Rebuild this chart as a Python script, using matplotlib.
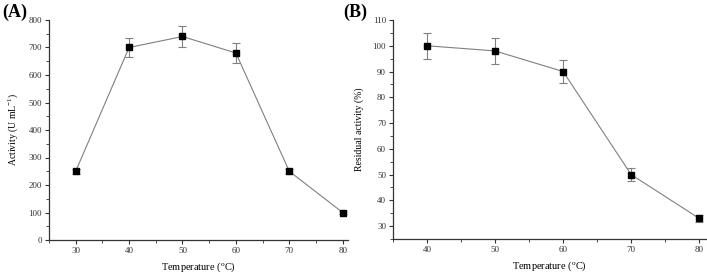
import matplotlib
matplotlib.use("Agg")
import matplotlib.pyplot as plt
from matplotlib.ticker import MultipleLocator

plt.rcParams['font.family'] = ['Liberation Serif', 'DejaVu Serif']
plt.rcParams['mathtext.fontset'] = 'custom'
plt.rcParams['mathtext.rm'] = 'Liberation Serif'
plt.rcParams['mathtext.it'] = 'Liberation Serif:italic'

# Panel A data
temp_a = [30, 40, 50, 60, 70, 80]
activity = [250, 700, 740, 680, 250, 100]
activity_err = [10, 35, 37, 35, 10, 5]

# Panel B data
temp_b = [40, 50, 60, 70, 80]
residual = [100, 98, 90, 50, 33]
residual_err = [5, 5, 4.5, 2.5, 1.5]

fig = plt.figure(figsize=(7.07, 2.77), dpi=100)
ax1 = fig.add_axes([49/707, 1-240/277, (348-49)/707, (240-20)/277])
ax2 = fig.add_axes([393/707, 1-239/277, (706-393)/707, (239-20)/277])

def style(ax):
    for s in ['top', 'right']:
        ax.spines[s].set_visible(False)
    for s in ['left', 'bottom']:
        ax.spines[s].set_linewidth(0.9)
        ax.spines[s].set_color('#333333')
    ax.tick_params(which='major', direction='out', length=3, width=0.8, labelsize=6.5,
                   colors='#333333', pad=2)
    ax.tick_params(which='minor', direction='out', length=2, width=0.6, colors='#333333')

for ax, x, y, e in [(ax1, temp_a, activity, activity_err), (ax2, temp_b, residual, residual_err)]:
    ax.errorbar(x, y, yerr=e, fmt='-', color='#808080', lw=0.8, ecolor='#808080',
                elinewidth=0.8, capsize=3, capthick=0.8, zorder=2)
    ax.plot(x, y, 's', color='black', ms=5, zorder=3)
    style(ax)

ax1.set_xlim(25, 81)
ax1.set_ylim(0, 800)
ax1.xaxis.set_major_locator(MultipleLocator(10))
ax1.xaxis.set_minor_locator(MultipleLocator(5))
ax1.yaxis.set_major_locator(MultipleLocator(100))
ax1.yaxis.set_minor_locator(MultipleLocator(50))
ax1.set_xlabel('Temperature ($\\mathrm{^{o}}$C)', fontsize=7.5, labelpad=4)
ax1.set_ylabel('Activity (U mL$\\mathrm{^{-1}}$)', fontsize=7, labelpad=6)

ax2.set_xlim(35, 81)
ax2.set_ylim(25, 110)
ax2.xaxis.set_major_locator(MultipleLocator(10))
ax2.xaxis.set_minor_locator(MultipleLocator(5))
ax2.yaxis.set_major_locator(MultipleLocator(10))
ax2.yaxis.set_minor_locator(MultipleLocator(5))
ax2.set_xlabel('Temperature ($\\mathrm{^{o}}$C)', fontsize=7.5, labelpad=4)
ax2.set_ylabel('Residual activity (%)', fontsize=7, labelpad=6)

fig.text(2/707, 1-4/277, '(A)', fontsize=13, fontweight='bold', va='top', ha='left')
fig.text(343/707, 1-4/277, '(B)', fontsize=13, fontweight='bold', va='top', ha='left')

fig.savefig('out.png', dpi=100)
